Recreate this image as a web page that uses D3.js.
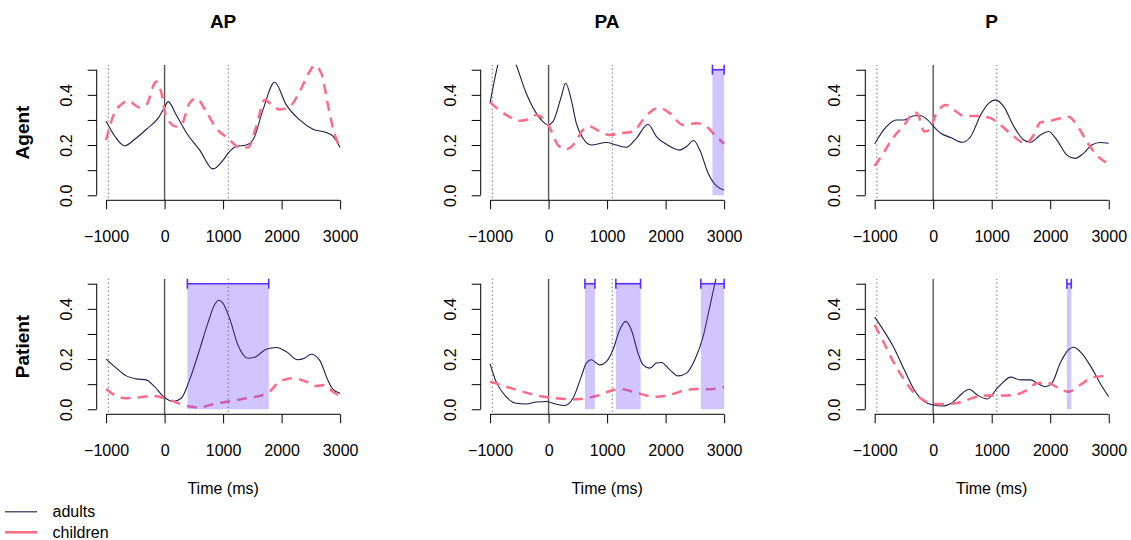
<!DOCTYPE html>
<html><head><meta charset="utf-8">
<script src="https://cdn.jsdelivr.net/npm/d3@7"></script>
<style>
html,body{margin:0;padding:0;background:#fff;}
svg{display:block;font-family:"Liberation Sans",Arial,Helvetica,sans-serif;}
</style></head>
<body><svg id="chart" width="1131" height="540"></svg>
<script>
// ---------- data ----------
const conditions = ["AP", "PA", "P"];
const roles = ["Agent", "Patient"];
const groups = ["adults", "children"];
const xTicks = [-1000, 0, 1000, 2000, 3000];
const yTicks = [0, 0.1, 0.2, 0.3, 0.4, 0.5];
const yTickLabels = ["0.0", "", "0.2", "", "0.4", ""];
const eventLines = [-962, 0, 1088];

const apAgentAdults = [[-1000,0.296],[-850,0.235],[-684,0.197],[-500,0.225],[-300,0.265],[-100,0.31],[0,0.35],[60,0.373],[200,0.32],[370,0.25],[600,0.18],[826,0.105],[1000,0.14],[1083,0.167],[1225,0.194],[1396,0.2],[1510,0.22],[1681,0.34],[1880,0.45],[2080,0.36],[2308,0.30],[2536,0.263],[2764,0.25],[2877,0.236],[3000,0.19]];
const apAgentChildren = [[-1000,0.22],[-883,0.313],[-712,0.367],[-627,0.376],[-427,0.35],[-313,0.36],[-171,0.446],[-142,0.453],[-57,0.41],[28,0.313],[200,0.274],[285,0.28],[427,0.367],[541,0.386],[712,0.333],[883,0.267],[1083,0.227],[1282,0.19],[1425,0.19],[1567,0.274],[1710,0.38],[1795,0.367],[1966,0.342],[2137,0.353],[2308,0.413],[2479,0.493],[2564,0.517],[2678,0.486],[2792,0.36],[2877,0.267],[3000,0.187]];
const paAgentAdults = [[-1000,0.367],[-866,0.52],[-720,0.62],[-553,0.52],[-382,0.406],[-211,0.327],[-97,0.293],[-11,0.28],[74,0.293],[217,0.393],[291,0.446],[388,0.38],[473,0.287],[588,0.227],[730,0.2],[987,0.21],[1158,0.2],[1329,0.191],[1500,0.227],[1700,0.283],[1843,0.234],[2014,0.203],[2242,0.18],[2356,0.194],[2481,0.218],[2584,0.18],[2727,0.088],[2869,0.037],[3000,0.021]];
const paAgentChildren = [[-1000,0.37],[-724,0.32],[-496,0.297],[-325,0.303],[-211,0.32],[-97,0.307],[17,0.27],[160,0.2],[302,0.183],[445,0.207],[588,0.26],[702,0.274],[873,0.254],[1044,0.24],[1215,0.247],[1443,0.254],[1614,0.30],[1785,0.34],[1900,0.347],[2071,0.327],[2299,0.28],[2527,0.287],[2698,0.274],[2812,0.247],[3000,0.205]];
const pAgentAdults = [[-1000,0.205],[-796,0.274],[-635,0.30],[-493,0.30],[-323,0.317],[-210,0.317],[-96,0.30],[0,0.276],[130,0.247],[300,0.23],[499,0.211],[641,0.234],[811,0.32],[952,0.367],[1066,0.38],[1207,0.353],[1378,0.274],[1548,0.22],[1661,0.211],[1831,0.24],[1973,0.254],[2115,0.22],[2285,0.16],[2426,0.147],[2568,0.167],[2710,0.2],[2852,0.21],[3000,0.207]];
const pAgentChildren = [[-1000,0.117],[-853,0.167],[-683,0.23],[-493,0.28],[-323,0.33],[-266,0.324],[-153,0.254],[-68,0.26],[45,0.32],[215,0.36],[357,0.34],[527,0.316],[754,0.316],[981,0.307],[1151,0.28],[1378,0.234],[1576,0.207],[1718,0.24],[1831,0.29],[2001,0.296],[2171,0.307],[2313,0.313],[2455,0.28],[2625,0.214],[2795,0.16],[3000,0.125]];
const apPatientAdults = [[-1000,0.2],[-825,0.164],[-654,0.133],[-484,0.121],[-313,0.117],[-171,0.09],[0,0.047],[142,0.031],[285,0.044],[427,0.117],[598,0.237],[740,0.343],[854,0.416],[928,0.434],[996,0.423],[1110,0.363],[1252,0.257],[1423,0.203],[1537,0.207],[1736,0.239],[1907,0.246],[2077,0.23],[2276,0.197],[2390,0.203],[2504,0.219],[2646,0.197],[2789,0.117],[2874,0.08],[3000,0.064]];
const apPatientChildren = [[-1000,0.081],[-825,0.053],[-654,0.044],[-427,0.048],[-199,0.053],[0,0.044],[200,0.027],[427,0.011],[598,0.007],[825,0.02],[1110,0.032],[1394,0.044],[1679,0.057],[1793,0.07],[1964,0.11],[2191,0.124],[2419,0.11],[2589,0.093],[2732,0.097],[2874,0.07],[3000,0.053]];
const paPatientAdults = [[-1000,0.181],[-897,0.11],[-726,0.05],[-555,0.024],[-383,0.021],[-212,0.029],[-40,0.031],[131,0.02],[274,0.015],[417,0.044],[559,0.13],[645,0.184],[731,0.197],[873,0.177],[987,0.19],[1101,0.237],[1215,0.316],[1318,0.35],[1415,0.316],[1529,0.223],[1615,0.177],[1729,0.164],[1843,0.184],[1929,0.186],[2071,0.157],[2214,0.133],[2357,0.144],[2499,0.197],[2642,0.29],[2756,0.41],[2870,0.53],[3000,0.66]];
const paPatientChildren = [[-1000,0.11],[-726,0.09],[-440,0.07],[-155,0.053],[131,0.044],[417,0.04],[645,0.044],[873,0.057],[1101,0.077],[1215,0.081],[1443,0.07],[1672,0.055],[1843,0.05],[2071,0.057],[2299,0.074],[2527,0.081],[2756,0.08],[3000,0.088]];
const pPatientAdults = [[-1000,0.367],[-853,0.316],[-683,0.25],[-493,0.157],[-323,0.077],[-153,0.031],[0,0.017],[159,0.013],[329,0.027],[499,0.064],[612,0.08],[754,0.057],[924,0.041],[1094,0.084],[1207,0.11],[1321,0.128],[1491,0.117],[1661,0.117],[1803,0.101],[1916,0.09],[2029,0.104],[2171,0.184],[2313,0.237],[2398,0.247],[2540,0.223],[2710,0.164],[2852,0.104],[3000,0.05]];
const pPatientChildren = [[-1000,0.336],[-853,0.27],[-683,0.19],[-493,0.117],[-323,0.064],[-153,0.035],[0,0.021],[244,0.021],[470,0.028],[697,0.047],[924,0.055],[1151,0.055],[1378,0.057],[1604,0.077],[1774,0.104],[1944,0.106],[2115,0.088],[2313,0.07],[2511,0.097],[2738,0.128],[3000,0.133]];

// significant clusters (ms)
const apAgentClusters = [];
const paAgentClusters = [[2800, 3000]];
const pAgentClusters = [];
const apPatientClusters = [[390, 1780]];
const paPatientClusters = [[621, 792], [1150, 1572], [2602, 3000]];
const pPatientClusters = [[2285, 2360]];

// ---------- layout ----------
const panels = [
  {row:0, col:0, adults:apAgentAdults, children:apAgentChildren, clusters:apAgentClusters},
  {row:0, col:1, adults:paAgentAdults, children:paAgentChildren, clusters:paAgentClusters},
  {row:0, col:2, adults:pAgentAdults, children:pAgentChildren, clusters:pAgentClusters},
  {row:1, col:0, adults:apPatientAdults, children:apPatientChildren, clusters:apPatientClusters},
  {row:1, col:1, adults:paPatientAdults, children:paPatientChildren, clusters:paPatientClusters},
  {row:1, col:2, adults:pPatientAdults, children:pPatientChildren, clusters:pPatientClusters}
];
const colLeft = [96.7, 480.7, 865.3];
const rowTop = [64.7, 278.7];
const pw = 252.8, ph = 135.6;
const colAdults = "#1c1b4d", colChildren = "#ff6b86";
const clusterFill = "rgba(100,62,255,0.3)", clusterLine = "#5a2cff";

const svg = d3.select("#chart");
svg.append("rect").attr("width",1131).attr("height",540).attr("fill","#fff");

panels.forEach((p, i) => {
  const L = colLeft[p.col], T = rowTop[p.row];
  const x = d3.scaleLinear().domain([-1160, 3160]).range([L, L + pw]);
  const y = d3.scaleLinear().domain([-0.02, 0.52]).range([T + ph, T]);
  const clipId = "clip" + i;
  svg.append("clipPath").attr("id", clipId).append("rect")
    .attr("x", L).attr("y", T).attr("width", pw).attr("height", ph);
  const g = svg.append("g");
  const gc = g.append("g").attr("clip-path", `url(#${clipId})`);

  // event lines
  eventLines.forEach(t => {
    gc.append("line").attr("x1", x(t)).attr("x2", x(t)).attr("y1", T).attr("y2", T + ph)
      .attr("stroke", t === 0 ? "#555" : "#333")
      .attr("stroke-width", t === 0 ? 1.4 : 1)
      .attr("stroke-dasharray", t === 0 ? null : "1,3");
  });

  const line = d3.line().x(d => x(d[0])).y(d => y(d[1])).curve(d3.curveMonotoneX);
  gc.append("path").datum(p.adults).attr("d", line).attr("fill","none")
    .attr("stroke", colAdults).attr("stroke-width", 1.1);
  gc.append("path").datum(p.children).attr("d", line).attr("fill","none")
    .attr("stroke", colChildren).attr("stroke-width", 2.5).attr("stroke-dasharray","10,7");

  // clusters
  p.clusters.forEach(c => {
    gc.append("rect").attr("x", x(c[0])).attr("width", x(c[1]) - x(c[0]))
      .attr("y", y(0.5)).attr("height", y(0) - y(0.5)).attr("fill", clusterFill);
    const b = g.append("g").attr("stroke", clusterLine).attr("stroke-width", 1.6);
    b.append("line").attr("x1", x(c[0])).attr("x2", x(c[1])).attr("y1", y(0.5)).attr("y2", y(0.5));
    [c[0], c[1]].forEach(t => b.append("line").attr("x1", x(t)).attr("x2", x(t))
      .attr("y1", y(0.5) - 5).attr("y2", y(0.5) + 5));
  });

  // x axis
  const xa = g.append("g").attr("transform", `translate(0,${T + ph})`)
    .call(d3.axisBottom(x).tickValues(xTicks).tickSize(9).tickSizeOuter(0)
      .tickFormat(d => d < 0 ? "\u2212" + Math.abs(d) : String(d)));
  xa.select(".domain").remove();
  xa.append("line").attr("x1", x(-1000)).attr("x2", x(3000)).attr("stroke", "#000");
  xa.selectAll(".tick line").attr("stroke", "#000");
  xa.selectAll(".tick text").attr("y", 41.5).attr("dy", null)
    .attr("font-size", 16).attr("fill", "#000").attr("font-family", "Liberation Sans, Arial, sans-serif");

  // y axis
  const ya = g.append("g").attr("transform", `translate(${L},0)`)
    .call(d3.axisLeft(y).tickValues(yTicks).tickSize(9).tickSizeOuter(0)
      .tickFormat((d, k) => yTickLabels[k]));
  ya.select(".domain").remove();
  ya.append("line").attr("y1", y(0)).attr("y2", y(0.5)).attr("stroke", "#000");
  ya.selectAll(".tick line").attr("stroke", "#000");
  ya.selectAll(".tick text").attr("x", null).attr("dy", null)
    .attr("transform", "translate(-25,0) rotate(-90)")
    .attr("text-anchor", "middle").attr("font-size", 16).attr("fill", "#000")
    .attr("font-family", "Liberation Sans, Arial, sans-serif");

  // titles
  if (p.row === 0) {
    svg.append("text").attr("x", L + pw / 2).attr("y", 27.5).attr("text-anchor", "middle")
      .attr("font-size", 19).attr("font-weight", "bold").text(conditions[p.col]);
  }
  if (p.col === 0) {
    svg.append("text").attr("transform", `translate(29,${T + ph / 2}) rotate(-90)`)
      .attr("text-anchor", "middle").attr("font-size", 19).attr("font-weight", "bold")
      .text(roles[p.row]);
  }
  if (p.row === 1) {
    svg.append("text").attr("x", L + pw / 2).attr("y", 493.5).attr("text-anchor", "middle")
      .attr("font-size", 16).text("Time (ms)");
  }
});

// legend
const legend = svg.append("g");
groups.forEach((gname, k) => {
  const yy = 511.8 + k * 20.5;
  legend.append("line").attr("x1", 5).attr("x2", 37).attr("y1", yy).attr("y2", yy)
    .attr("stroke", k === 0 ? colAdults : colChildren).attr("stroke-width", k === 0 ? 1.1 : 2.5);
  legend.append("text").attr("x", 52.5).attr("y", yy + 5.5).attr("font-size", 16).text(gname);
});
</script></body></html>
